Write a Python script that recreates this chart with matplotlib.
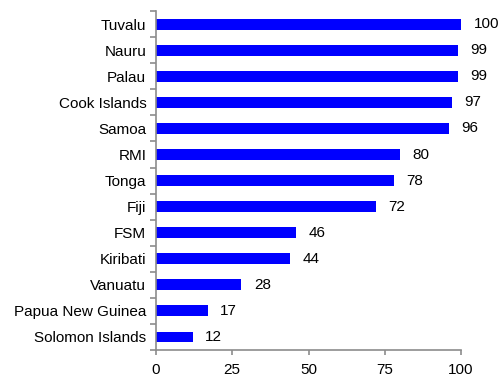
import numpy as np
import matplotlib.pyplot as plt

countries = ['Tuvalu', 'Nauru', 'Palau', 'Cook Islands', 'Samoa', 'RMI', 'Tonga',
             'Fiji', 'FSM', 'Kiribati', 'Vanuatu', 'Papua New Guinea', 'Solomon Islands']
values = [100, 99, 99, 97, 96, 80, 78, 72, 46, 44, 28, 17, 12]
xticks = [0, 25, 50, 75, 100]

plt.rcParams['font.family'] = ['Liberation Sans', 'DejaVu Sans']
plt.rcParams['font.size'] = 11

fig = plt.figure(figsize=(5, 3.79), dpi=100)
ax = fig.add_axes([0.312, 0.0765, 0.61, 0.894])

y = np.arange(len(countries))[::-1]
ax.barh(y, values, height=0.42, color='#0000ff')

# value labels just right of each bar
for yi, v in zip(y, values):
    ax.annotate(str(v), (v, yi), xytext=(9, 0), textcoords='offset points',
                va='center', ha='left', fontsize=11)

ax.set_xlim(0, 100)
ax.set_ylim(-0.5, len(countries) - 0.5)
ax.set_xticks(xticks)
ax.set_yticks(y)
ax.set_yticklabels(countries)
ax.set_yticks(np.arange(-0.5, len(countries), 1), minor=True)

grey = '#8c8c8c'
for side in ['top', 'right']:
    ax.spines[side].set_visible(False)
for side in ['left', 'bottom']:
    ax.spines[side].set_color(grey)
    ax.spines[side].set_linewidth(1.2)

ax.tick_params(axis='y', which='major', length=0, pad=7)
ax.tick_params(axis='y', which='minor', length=4, color=grey, width=1.2)
ax.tick_params(axis='x', length=3.5, color=grey, width=1.2, pad=6)

fig.savefig('out.png', dpi=100)
